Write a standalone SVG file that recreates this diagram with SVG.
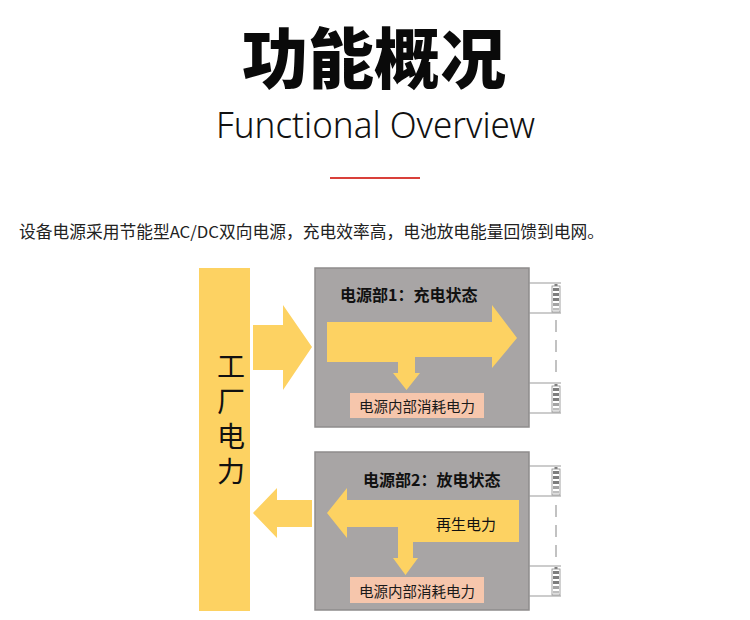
<svg xmlns="http://www.w3.org/2000/svg" width="750" height="620" viewBox="0 0 750 620">
<style>
.cjk{font-family:"Noto Sans CJK SC","Noto Sans",sans-serif;}
.yel{fill:#FDD262;}
.gbox{fill:#A8A5A5;stroke:#8E8C8C;stroke-width:1.5;}
.pink{fill:#F6C6AC;}
.lbl{font-size:14.5px;fill:#1a1a1a;text-anchor:middle;}
.ttl{font-size:16px;font-weight:700;fill:#111;}
.bl{stroke:#9a9a9a;stroke-width:1.2;fill:none;}
.dash{stroke:#9a9a9a;stroke-width:1.2;stroke-dasharray:12,8;fill:none;}
.bat{fill:#fff;stroke:#8a8a8a;stroke-width:0.8;}
.bar{fill:#7d7d7d;}
.vert{writing-mode:vertical-rl;text-orientation:upright;letter-spacing:7px;}
</style>
<defs>
<g id="battery">
<rect x="-1.5" y="0" width="3" height="2" class="bar"/>
<rect x="-4" y="2" width="8" height="26" class="bat"/>
<rect x="-3" y="4" width="6" height="3" class="bar"/>
<rect x="-3" y="9" width="6" height="3" class="bar"/>
<rect x="-3" y="14" width="6" height="3" class="bar"/>
<rect x="-3" y="19" width="6" height="3" class="bar" opacity="0.7"/>
<rect x="-3" y="24" width="6" height="2.5" class="bar" opacity="0.5"/>
</g>
</defs>
<rect width="750" height="620" fill="#ffffff"/>

<g id="header">
<text x="374" y="83" class="cjk" font-size="66" font-weight="900" text-anchor="middle" fill="#0a0a0a">功能概况</text>
<text x="375.5" y="138" font-family="'Noto Sans','Open Sans',sans-serif" font-weight="300" font-size="36" text-anchor="middle" fill="#111" textLength="319" lengthAdjust="spacingAndGlyphs">Functional Overview</text>
<rect x="330" y="177" width="90" height="2" fill="#D9403A"/>
<text x="19" y="238" class="cjk" font-size="16.5" fill="#222" textLength="585" lengthAdjust="spacingAndGlyphs">设备电源采用节能型AC/DC双向电源，充电效率高，电池放电能量回馈到电网。</text>
</g>

<g id="factory-power">
<rect x="199" y="268" width="51" height="343" class="yel"/>
<text x="231" y="352" class="cjk vert" font-size="28" fill="#111">工厂电力</text>
</g>

<g id="connectors">
<polygon class="yel" points="253,325 283,325 283,305 312,347 283,390 283,370 253,370"/>
<polygon class="yel" points="312,500 277,500 277,488 253,513 277,538 277,527 312,527"/>
</g>

<g id="power-unit-1">
<rect x="315" y="268" width="214" height="159" class="gbox"/>
<text x="340" y="301" class="cjk ttl">电源部1：充电状态</text>
<polygon class="yel" points="327,322 492,322 492,305 517,338 492,368 492,357 415,357 415,373 420,373 406.5,390 393,373 398,373 398,362 327,362"/>
<rect x="350" y="393" width="134" height="25" class="pink"/>
<text x="417" y="412" class="cjk lbl">电源内部消耗电力</text>
</g>

<g id="battery-1">
<path class="bl" d="M529,283 H561 M529,313 H561 M529,383 H561 M529,413 H561"/>
<path class="dash" d="M556,320 V372"/>
<use href="#battery" x="556" y="284"/>
<use href="#battery" x="556" y="384"/>
</g>

<g id="power-unit-2">
<rect x="315" y="452" width="214" height="158" class="gbox"/>
<text x="363" y="486" class="cjk ttl">电源部2：放电状态</text>
<polygon class="yel" points="327,513 347,488 347,500 519,500 519,542 413,542 413,558 418,558 405.5,575 393,558 398,558 398,527 347,527 347,538"/>
<text x="466" y="530" class="cjk" font-size="15" text-anchor="middle" fill="#111">再生电力</text>
<rect x="350" y="577" width="134" height="26" class="pink"/>
<text x="417" y="597" class="cjk lbl">电源内部消耗电力</text>
</g>

<g id="battery-2">
<path class="bl" d="M529,466 H561 M529,496 H561 M529,566 H561 M529,596 H561"/>
<path class="dash" d="M556,505 V557"/>
<use href="#battery" x="556" y="467"/>
<use href="#battery" x="556" y="567"/>
</g>
</svg>
